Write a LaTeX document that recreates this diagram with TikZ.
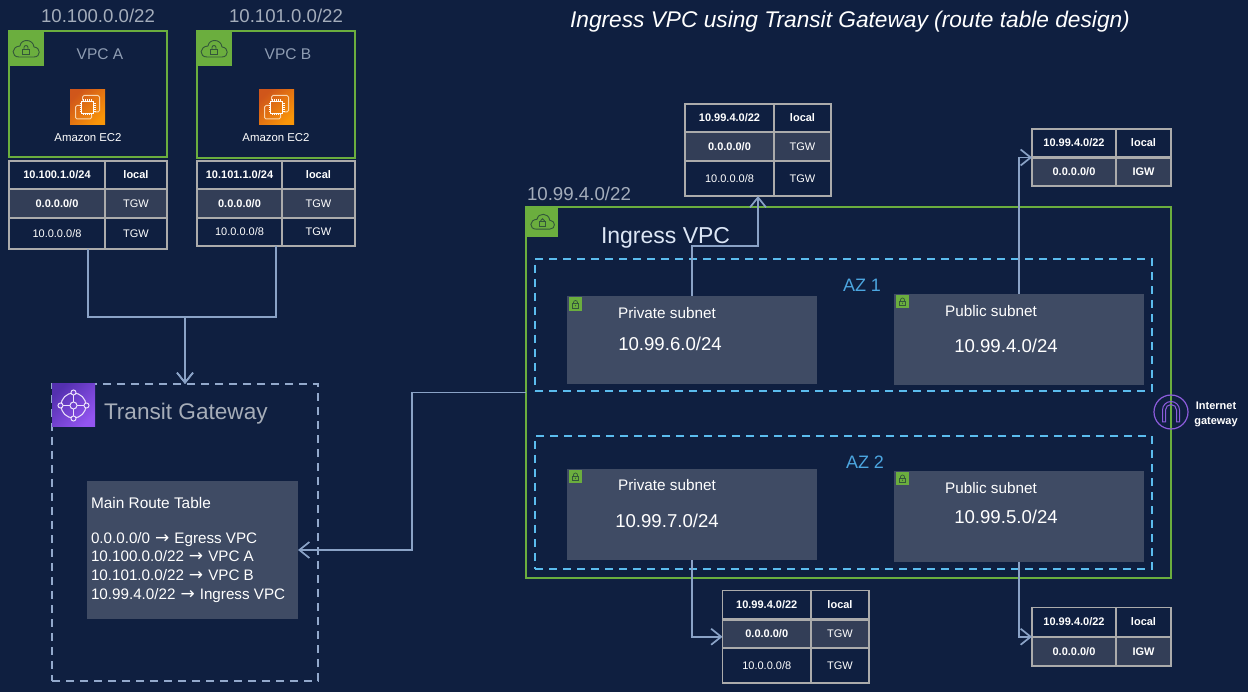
\documentclass[tikz,border=0pt]{standalone}
\usepackage{fontspec}
\setmainfont{Liberation Sans}
\newfontfamily\arrowfont{DejaVu Sans}
\usetikzlibrary{arrows.meta}
\definecolor{bgc}{HTML}{0F1F40}
\definecolor{vpcg}{HTML}{6BAE3E}
\definecolor{darkg}{HTML}{33573A}
\definecolor{subn}{HTML}{3F4B64}
\definecolor{rowf}{HTML}{333E57}
\definecolor{tline}{HTML}{ABABAB}
\definecolor{conn}{HTML}{8AA2C6}
\definecolor{azc}{HTML}{5BBCEE}
\definecolor{azt}{HTML}{4CA6E0}
\definecolor{greyt}{HTML}{A4ADBB}
\definecolor{tgwt}{HTML}{A6ADB8}
\definecolor{vpct}{HTML}{8F9DB3}
\definecolor{igwc}{HTML}{8C5CDC}
\definecolor{tgwd}{HTML}{93A9CC}
\definecolor{ecl}{HTML}{D0561A}
\definecolor{ech}{HTML}{FA9608}
\definecolor{ecw}{HTML}{F8D4AE}
\definecolor{tgl}{HTML}{5430B0}
\definecolor{tgh}{HTML}{9355F0}
\definecolor{tgw}{HTML}{EDE4FB}
\definecolor{ingt}{HTML}{DCE6F5}
\newcommand{\fs}[1]{\fontsize{#1}{#1}\selectfont}
\newcommand{\ra}{\kern.8pt{\arrowfont\fontsize{17}{17}\selectfont →}\kern.8pt}
\newcommand{\bx}[7]{%
  \pgfmathsetmacro{\bw}{#4-#2}\pgfmathsetmacro{\bh}{#5-#3}%
  \pgfmathsetmacro{\bcx}{(#2+#4)/2}\pgfmathsetmacro{\bcy}{(#3+#5)/2}%
  \node[rectangle,outer sep=0pt,inner sep=0pt,minimum width=\bw pt,minimum height=\bh pt,#6] (#1) at (\bcx,\bcy) {#7};}
\newcommand{\rrow}[9]{%
  \bx{#1a}{#2}{#5}{#3}{#6}{cell,#9}{\raisebox{-.7pt}{\bfseries #7}}%
  \bx{#1b}{#3}{#5}{#4}{#6}{cell,#9}{\raisebox{-.7pt}{#8}}}
\tikzset{
  cell/.style={draw=tline,line width=1.5pt,text=white,font=\fs{11}},
  shadedrow/.style={fill=rowf},
  plainrow/.style={},
  tbl/.style={draw=tline,line width=1.8pt},
  vpcbox/.style={draw=vpcg,line width=2pt},
  tagbox/.style={fill=vpcg},
  subnetbox/.style={fill=subn},
  azbox/.style={draw=azc,line width=1.6pt,dash pattern=on 8pt off 6pt},
  tgwbox/.style={draw=tgwd,line width=1.6pt,dash pattern=on 8pt off 6pt},
  arr/.style={draw=conn,line width=1.7pt,-{Straight Barb[length=10pt,width=16pt,line width=1.7pt]}},
  lbl/.style={inner sep=0pt,outer sep=0pt},
  cloudicon/.pic={
    \draw[darkg,line width=.9pt] (-7,8.5) -- (8,8.5) .. controls (15,8.5) and (15,-1) .. (8,-1.5)
      .. controls (7,-10) and (-5,-10) .. (-6,-2.5) .. controls (-15,-2) and (-15,8.5) .. (-7,8.5) -- cycle;
    \draw[darkg,line width=.9pt] (-3.5,.5) rectangle (3.5,5.5);
    \draw[darkg,line width=.9pt] (-2,.5) -- (-2,-1) arc[start angle=180,end angle=360,radius=2] -- (2,.5);
  },
  lockicon/.pic={
    \draw[darkg,line width=.7pt] (-3,-.5) rectangle (3,4);
    \draw[darkg,line width=.7pt] (-2,-.5) -- (-2,-1.5) arc[start angle=180,end angle=360,radius=2] -- (2,-.5);
    \fill[darkg] (0,1.7) circle[radius=.7];
  },
  ecicon/.pic={
    \shade[left color=ecl,right color=ech,shading angle=45] (-17.5,-17.5) rectangle (17.5,17.5);
    \draw[ecw,line width=1pt,rounded corners=1.5pt] (-5,-7) -- (-5,-12) -- (12,-12) -- (12,4.5) -- (7,4.5);
    \draw[ecw,line width=1pt,rounded corners=1.5pt] (-7,-2) -- (-12,-2) -- (-12,11.5) -- (4,11.5) -- (4,7);
    \draw[white!92!ecw,line width=1pt] (-6,-6) rectangle (6,6);
    \foreach \p in {-4,-2,0,2,4}{
      \draw[white!92!ecw,line width=.6pt] (\p,-8) -- (\p,-6) (\p,6) -- (\p,8) (-8,\p) -- (-6,\p) (6,\p) -- (8,\p);
    }
  },
  tgicon/.pic={
    \shade[left color=tgl,right color=tgh,shading angle=45] (-21.5,-21.5) rectangle (21.5,21.5);
    \draw[tgw,line width=1pt] (0,0) circle[radius=12.5];
    \foreach \a in {0,90,180,270}{
      \draw[tgw,line width=1pt] (\a:3.5) -- (\a:10.5);
      \fill[tgl!50!tgh] (\a:13) circle[radius=2.5];
      \draw[tgw,line width=1pt] (\a:13) circle[radius=2.5];
    }
    \draw[tgw,line width=1pt] (0,0) circle[radius=3.5];
  },
  igwicon/.pic={
    \draw[igwc,line width=1.2pt] (0,0) circle[radius=17];
    \draw[igwc,line width=1pt] (-8.5,10) -- (-8.5,-2) arc[start angle=180,end angle=360,radius=8.5] -- (8.5,10)
      -- (5.5,10) -- (5.5,-2) arc[start angle=360,end angle=180,radius=5.5] -- (-5.5,10) -- cycle;
  },
}
\begin{document}
\begin{tikzpicture}[x=1pt,y=-1pt]
\fill[bgc] (0,0) rectangle (1248,692);
\useasboundingbox (0,0) rectangle (1248,692);

% title
\node[lbl,text=white,font=\fs{22.7}\itshape] (title) at (850,21.5) {Ingress VPC using Transit Gateway (route table design)};

% VPC A
\node[lbl,text=greyt,font=\fs{18.6}] (cidrA) at (98,15.5) {10.100.0.0/22};
\bx{vpcA}{9}{31}{167}{157}{vpcbox}{}
\bx{tagA}{8}{30}{44}{66}{tagbox}{}
\pic at (26,48.5) {cloudicon};
\node[lbl,text=vpct,font=\fs{15.5}] (nameA) at (100,54) {VPC A};
\pic at (87.5,107.5) {ecicon};
\node[lbl,text=white,font=\fs{11.4}] (ecA) at (88,137.5) {Amazon EC2};
\rrow{ra1}{9}{105}{167}{161}{188.3}{10.100.1.0/24}{\bfseries local}{plainrow}
\rrow{ra2}{9}{105}{167}{189.7}{218}{0.0.0.0/0}{TGW}{shadedrow}
\rrow{ra3}{9}{105}{167}{218}{249}{\mdseries 10.0.0.0/8}{TGW}{plainrow}
\bx{tA}{9}{161}{167}{249}{tbl}{}

% VPC B
\node[lbl,text=greyt,font=\fs{18.6}] (cidrB) at (286,15.5) {10.101.0.0/22};
\bx{vpcB}{197}{31}{355}{158}{vpcbox}{}
\bx{tagB}{196}{30}{232}{66}{tagbox}{}
\pic at (214,48.5) {cloudicon};
\node[lbl,text=vpct,font=\fs{15.5}] (nameB) at (288,54) {VPC B};
\pic at (276.5,107.5) {ecicon};
\node[lbl,text=white,font=\fs{11.4}] (ecB) at (276,137.5) {Amazon EC2};
\rrow{rb1}{197}{282}{355}{161}{188.3}{10.101.1.0/24}{\bfseries local}{plainrow}
\rrow{rb2}{197}{282}{355}{189.7}{218}{0.0.0.0/0}{TGW}{shadedrow}
\rrow{rb3}{197}{282}{355}{218}{246}{\mdseries 10.0.0.0/8}{TGW}{plainrow}
\bx{tB}{197}{161}{355}{246}{tbl}{}

% Transit Gateway
\bx{tgw}{52}{384}{318}{681}{tgwbox}{}
\pic at (73.5,405.5) {tgicon};
\node[lbl,anchor=west,text=tgwt,font=\fs{22.6}] (tgwname) at (104,413.5) {Transit Gateway};
\bx{rt}{87}{481}{298}{619}{subnetbox}{}
\node[lbl,anchor=west,text=white,font=\fs{15.4}] (rthead) at (91,503) {Main Route Table};
\node[lbl,anchor=north west,align=left,text=white,font=\fontsize{15.2}{18.7}\selectfont] (rtbody) at (91,532) {0.0.0.0/0 \ra\ Egress VPC\\10.100.0.0/22 \ra\ VPC A\\10.101.0.0/22 \ra\ VPC B\\10.99.4.0/22 \ra\ Ingress VPC};

% Ingress VPC
\node[lbl,anchor=west,text=greyt,font=\fs{18.7}] (cidrI) at (527,193.5) {10.99.4.0/22};
\bx{ingress}{526}{207}{1171}{578}{vpcbox}{}
\bx{tagI}{525}{206}{558}{237}{tagbox}{}
\pic[scale=.9] at (542.5,221.5) {cloudicon};
\node[lbl,anchor=west,text=ingt,font=\fs{23}] (ingname) at (601,237.5) {Ingress VPC};
\bx{az1}{535}{259}{1152}{391}{azbox}{}
\bx{az2}{535}{436}{1152}{569}{azbox}{}
\node[lbl,text=azt,font=\fs{18}] (az1l) at (862,285) {AZ 1};
\node[lbl,text=azt,font=\fs{18}] (az2l) at (865,462) {AZ 2};

\bx{priv1}{567}{296}{817}{384}{subnetbox}{}
\bx{pub1}{894}{294}{1144}{385}{subnetbox}{}
\bx{priv2}{567}{469}{817}{560}{subnetbox}{}
\bx{pub2}{894}{471}{1144}{562}{subnetbox}{}
\bx{lk1}{569}{297}{582}{311}{tagbox}{}
\bx{lk2}{896}{295}{909}{308}{tagbox}{}
\bx{lk3}{569}{470}{582}{483}{tagbox}{}
\bx{lk4}{896}{472}{909}{485}{tagbox}{}
\pic at (575.5,304) {lockicon};
\pic at (902.5,301.5) {lockicon};
\pic at (575.5,476.5) {lockicon};
\pic at (902.5,478.5) {lockicon};
\node[lbl,text=white,font=\fs{15.3}] (s1) at (667,313) {Private subnet};
\node[lbl,text=white,font=\fs{18.6}] (c1) at (670,344) {10.99.6.0/24};
\node[lbl,text=white,font=\fs{15.3}] (s2) at (991,311) {Public subnet};
\node[lbl,text=white,font=\fs{18.6}] (c2) at (1006,346) {10.99.4.0/24};
\node[lbl,text=white,font=\fs{15.3}] (s3) at (667,485) {Private subnet};
\node[lbl,text=white,font=\fs{18.6}] (c3) at (667,521) {10.99.7.0/24};
\node[lbl,text=white,font=\fs{15.3}] (s4) at (991,488) {Public subnet};
\node[lbl,text=white,font=\fs{18.6}] (c4) at (1006,517) {10.99.5.0/24};

% IGW
\pic at (1171,412) {igwicon};
\node[lbl,align=center,text=white,font=\fontsize{11}{14.4}\selectfont\bfseries] (igw) at (1216,414.5) {Internet\\gateway};

% top table
\rrow{rc1}{685}{774}{831}{104}{131.3}{10.99.4.0/22}{\bfseries local}{plainrow}
\rrow{rc2}{685}{774}{831}{132.7}{161}{0.0.0.0/0}{TGW}{shadedrow}
\rrow{rc3}{685}{774}{831}{161}{196}{\mdseries 10.0.0.0/8}{TGW}{plainrow}
\bx{tTop}{685}{104}{831}{196}{tbl}{}
% right top table
\rrow{rd1}{1032}{1116}{1171}{129}{156.8}{10.99.4.0/22}{\bfseries local}{plainrow}
\rrow{rd2}{1032}{1116}{1171}{158.2}{186}{0.0.0.0/0}{\bfseries IGW}{shadedrow}
\bx{tR1}{1032}{129}{1171}{186}{tbl}{}
% bottom left table
\rrow{re1}{722.5}{811}{869}{590.5}{618.8}{10.99.4.0/22}{\bfseries local}{plainrow}
\rrow{re2}{722.5}{811}{869}{620.2}{648}{0.0.0.0/0}{TGW}{shadedrow}
\rrow{re3}{722.5}{811}{869}{648}{683}{\mdseries 10.0.0.0/8}{TGW}{plainrow}
\bx{tBL}{722.5}{590.5}{869}{683}{tbl}{}
% bottom right table
\rrow{rf1}{1032}{1116}{1171}{607.5}{636.3}{10.99.4.0/22}{\bfseries local}{plainrow}
\rrow{rf2}{1032}{1116}{1171}{637.7}{666}{0.0.0.0/0}{\bfseries IGW}{shadedrow}
\bx{tBR}{1032}{607.5}{1171}{666}{tbl}{}

% connectors
\draw[arr] (tA.south) -- ++(0,68) -| (tgw.north);
\draw[arr] (tB.south) -- ++(0,71) -| (tgw.north);
\draw[arr] (ingress.west) -- ++(-114,0) |- (rt.east);
\draw[arr] (priv1.north) -- ++(0,-50) -| (tTop.south);
\draw[arr] (pub1.north) |- (tR1.west);
\draw[arr] (priv2.south) |- (tBL.west);
\draw[arr] (pub2.south) |- (tBR.west);
\end{tikzpicture}
\end{document}
